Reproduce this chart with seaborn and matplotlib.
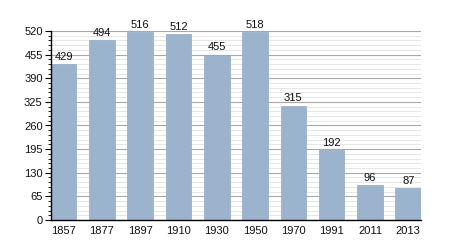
import matplotlib
matplotlib.use("Agg")
import matplotlib.pyplot as plt
from matplotlib.ticker import MultipleLocator
import seaborn as sns
import pandas as pd

years = ["1857", "1877", "1897", "1910", "1930", "1950", "1970", "1991", "2011", "2013"]
population = [429, 494, 516, 512, 455, 518, 315, 192, 96, 87]
yticks = [0, 65, 130, 195, 260, 325, 390, 455, 520]

df = pd.DataFrame({"year": years, "pop": population})

sns.set_style("white")
plt.rcParams['font.family'] = ['Liberation Sans', 'DejaVu Sans']

fig = plt.figure(figsize=(4.5, 2.5), dpi=100)
ax = fig.add_axes([0.1133, 0.12, 0.822, 0.756])

sns.barplot(data=df, x="year", y="pop", ax=ax, color="#9cb3ce", saturation=1,
            width=0.67, edgecolor="#93aac6", linewidth=0.5, zorder=3)

ax.set_ylim(0, 520)
ax.set_xlim(-0.33, 9.33)
ax.set_yticks(yticks)
ax.yaxis.set_minor_locator(MultipleLocator(13))
ax.set_axisbelow("line")
ax.grid(True, which="major", axis="y", color="#a8a8a8", linewidth=0.8)
ax.grid(True, which="minor", axis="y", color="#e2e2e2", linewidth=0.6)

for s in ["top", "right"]:
    ax.spines[s].set_visible(False)
for s in ["left", "bottom"]:
    ax.spines[s].set_color("black")
    ax.spines[s].set_linewidth(1.0)
    ax.spines[s].set_zorder(4)

ax.tick_params(axis="y", which="major", direction="out", length=4, width=0.8,
               labelsize=8, pad=2, left=True, color="black", labelcolor="#111111")
ax.tick_params(axis="y", which="minor", direction="out", length=2.2, width=0.6,
               left=True, color="black")
ax.tick_params(axis="x", which="both", length=0, labelsize=8, pad=4, labelcolor="#111111")

for i, v in enumerate(population):
    ax.text(i, v + 6, str(v), ha="center", va="bottom", fontsize=8, color="#111111")

ax.set_xlabel("")
ax.set_ylabel("")

fig.savefig("out.png", dpi=100)
